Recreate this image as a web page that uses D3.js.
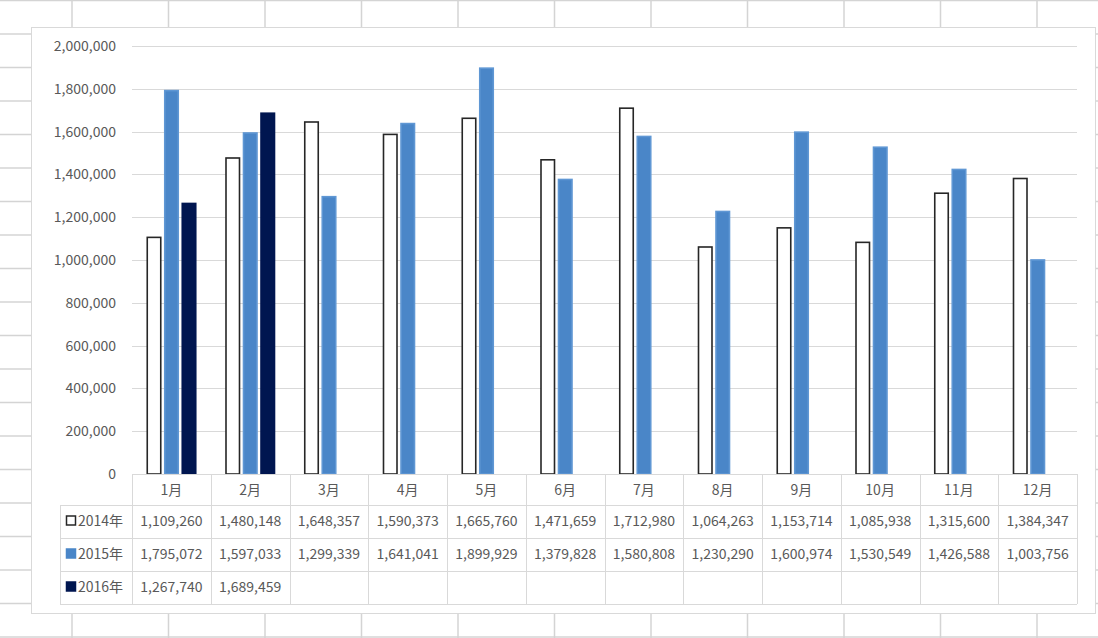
<!DOCTYPE html>
<html>
<head>
<meta charset="utf-8">
<script src="https://cdn.jsdelivr.net/npm/d3@7"></script>
<style>
  body { margin: 0; background: #fff; }
  text { font-family: "Noto Sans CJK JP", "Noto Sans", sans-serif; fill: #595959; }
</style>
</head>
<body>
<div id="chart"></div>
<script>
// data
let months = ['1月', '2月', '3月', '4月', '5月', '6月', '7月', '8月', '9月', '10月', '11月', '12月'];
let seriesNames = ['2014年', '2015年', '2016年'];
let values2014 = [1109260, 1480148, 1648357, 1590373, 1665760, 1471659, 1712980, 1064263, 1153714, 1085938, 1315600, 1384347];
let values2015 = [1795072, 1597033, 1299339, 1641041, 1899929, 1379828, 1580808, 1230290, 1600974, 1530549, 1426588, 1003756];
let values2016 = [1267740, 1689459];
let yTicks = [0, 200000, 400000, 600000, 800000, 1000000, 1200000, 1400000, 1600000, 1800000, 2000000];

let allValues = [values2014, values2015, values2016];
let fills = ['#ffffff', '#4a86c8', '#001650'];
let strokes = ['#262626', '#5f97d4', '#001650'];

let svgWidth = 1098;
let svgHeight = 638;
let fontSize = '14px';

let svg = d3.select('#chart')
    .append('svg')
    .attr('width', svgWidth)
    .attr('height', svgHeight);

// spreadsheet cells behind the chart
let sheet = svg.append('g');
for (let k = 0; k <= 19; k++) {
    sheet.append('line')
        .attr('x1', 0).attr('x2', svgWidth)
        .attr('y1', k * 33.5 + 0.5).attr('y2', k * 33.5 + 0.5)
        .attr('stroke', '#d4d4d4').attr('stroke-width', 1.5);
}
for (let k = 0; k <= 10; k++) {
    sheet.append('line')
        .attr('x1', 72 + k * 96.5).attr('x2', 72 + k * 96.5)
        .attr('y1', 0).attr('y2', svgHeight)
        .attr('stroke', '#d4d4d4').attr('stroke-width', 1.5);
}

// chart box
svg.append('rect')
    .attr('x', 31.5).attr('y', 27.5)
    .attr('width', 1064).attr('height', 586)
    .attr('fill', '#fff')
    .attr('stroke', '#d9d9d9');

let plotLeft = 132;
let plotRight = 1077;
let plotBottom = 474;
let plotTop = 46;

let x = d3.scaleBand()
    .domain(months)
    .range([plotLeft, plotRight]);

let xSub = d3.scaleBand()
    .domain(seriesNames)
    .range([14.5, 64.5])
    .paddingInner(0.1429);

let y = d3.scaleLinear()
    .domain([0, 2000000])
    .range([plotBottom, plotTop]);

// gridlines
svg.append('g')
    .selectAll('line')
    .data(yTicks.slice(1))
    .enter()
    .append('line')
    .attr('x1', plotLeft).attr('x2', plotRight)
    .attr('y1', d => Math.round(y(d)) + 0.5)
    .attr('y2', d => Math.round(y(d)) + 0.5)
    .attr('stroke', '#d9d9d9');

// y axis labels
let yAxis = d3.axisLeft(y)
    .tickValues(yTicks)
    .tickSize(0)
    .tickPadding(16)
    .tickFormat(d3.format(','));
let yAxisG = svg.append('g')
    .attr('transform', `translate(${plotLeft},0)`)
    .call(yAxis);
yAxisG.select('.domain').remove();
yAxisG.selectAll('text')
    .attr('font-size', fontSize)
    .attr('font-family', null)
    .attr('fill', '#595959');

// bars
seriesNames.forEach(function (name, i) {
    let vals = allValues[i];
    svg.append('g')
        .selectAll('rect')
        .data(vals)
        .enter()
        .append('rect')
        .attr('x', (d, j) => x(months[j]) + xSub(name) + 0.75)
        .attr('y', d => y(d) + 0.75)
        .attr('width', xSub.bandwidth() - 1.5)
        .attr('height', d => plotBottom - y(d) - 0.75)
        .attr('fill', fills[i])
        .attr('stroke', strokes[i])
        .attr('stroke-width', 1.6);
});

// data table
let rowH = 33;
let tableLeft = 60;
let table = svg.append('g');
let lineColor = '#d9d9d9';

// horizontal lines
table.append('line')
    .attr('x1', plotLeft).attr('x2', plotRight)
    .attr('y1', plotBottom + 0.5).attr('y2', plotBottom + 0.5)
    .attr('stroke', lineColor);
for (let r = 1; r <= 4; r++) {
    let yy = plotBottom + 31 + (r - 1) * rowH + 0.5;
    table.append('line')
        .attr('x1', tableLeft).attr('x2', plotRight)
        .attr('y1', yy).attr('y2', yy)
        .attr('stroke', lineColor);
}
let tableBottom = plotBottom + 31 + 3 * rowH;
// vertical lines
months.forEach(function (m) {
    table.append('line')
        .attr('x1', Math.round(x(m)) + 0.5).attr('x2', Math.round(x(m)) + 0.5)
        .attr('y1', plotBottom).attr('y2', tableBottom)
        .attr('stroke', lineColor);
});
table.append('line')
    .attr('x1', plotRight + 0.5).attr('x2', plotRight + 0.5)
    .attr('y1', plotBottom).attr('y2', tableBottom)
    .attr('stroke', lineColor);
table.append('line')
    .attr('x1', tableLeft + 0.5).attr('x2', tableLeft + 0.5)
    .attr('y1', plotBottom + 31).attr('y2', tableBottom)
    .attr('stroke', lineColor);

// month header
table.selectAll('.month')
    .data(months)
    .enter()
    .append('text')
    .attr('class', 'month')
    .attr('x', d => x(d) + x.bandwidth() / 2)
    .attr('y', plotBottom + 16)
    .attr('dy', '0.35em')
    .attr('text-anchor', 'middle')
    .attr('font-size', fontSize)
    .text(d => d);

// series rows
let fmt = d3.format(',');
seriesNames.forEach(function (name, i) {
    let rowMid = plotBottom + 31 + i * rowH + rowH / 2;
    table.append('rect')
        .attr('x', 66.5).attr('y', rowMid - 5.5)
        .attr('width', 9).attr('height', 9)
        .attr('fill', fills[i])
        .attr('stroke', i === 0 ? '#262626' : fills[i])
        .attr('stroke-width', 1.5);
    table.append('text')
        .attr('x', 78)
        .attr('y', rowMid)
        .attr('dy', '0.35em')
        .attr('font-size', fontSize)
        .text(name);
    table.selectAll('.v' + i)
        .data(allValues[i])
        .enter()
        .append('text')
        .attr('class', 'v' + i)
        .attr('x', (d, j) => x(months[j]) + x.bandwidth() / 2)
        .attr('y', rowMid)
        .attr('dy', '0.35em')
        .attr('text-anchor', 'middle')
        .attr('font-size', fontSize)
        .text(d => fmt(d));
});
</script>
</body>
</html>
